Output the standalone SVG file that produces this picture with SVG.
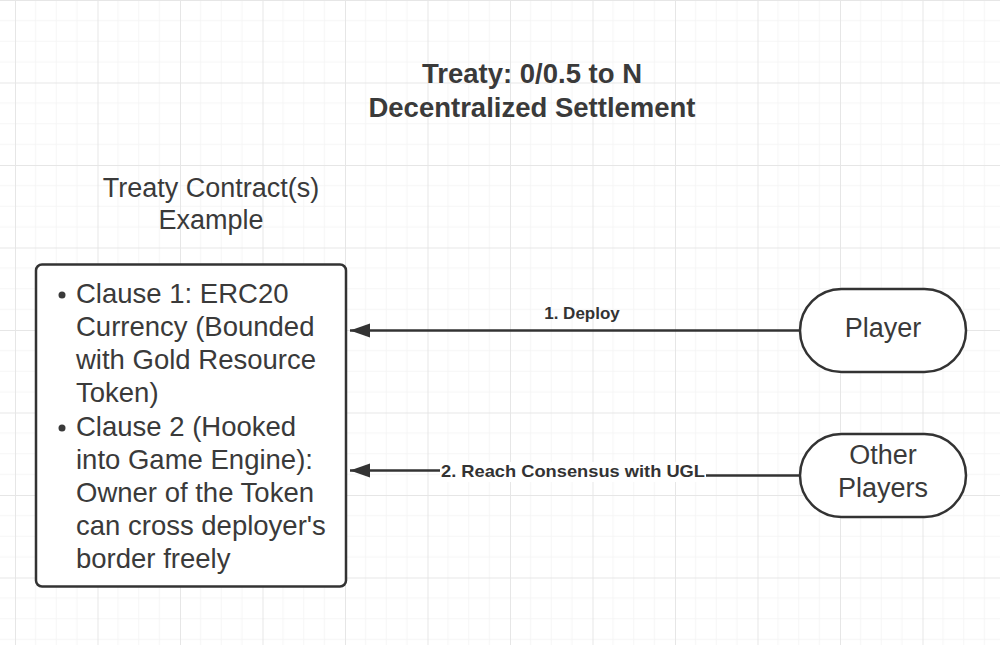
<svg xmlns="http://www.w3.org/2000/svg" width="1000" height="645" viewBox="0 0 1000 645">
<defs>
<pattern id="grid" patternUnits="userSpaceOnUse" x="15" y="0" width="82.5" height="82.5">
<path d="M20.6 0V82.5M41.25 0V82.5M61.9 0V82.5M0 20.6H82.5M0 41.25H82.5M0 61.9H82.5" stroke="#f5f5f5" stroke-width="1" fill="none"/>
<path d="M0.5 0V82.5M0 0.5H82.5" stroke="#e6e6e6" stroke-width="1" fill="none"/>
</pattern>
<marker id="arr" markerUnits="userSpaceOnUse" markerWidth="22" markerHeight="16" refX="20" refY="7" orient="auto">
<path d="M0 0L20 7L0 14Z" fill="#333"/>
</marker>
<style>
text{font-family:"Liberation Sans",Arial,sans-serif;fill:#3a3a3a}
.title{font-size:27.5px;font-weight:bold;text-anchor:middle}
.sub{font-size:27px;text-anchor:middle}
.body{font-size:27.5px}
.node{fill:#fff;stroke:#333;stroke-width:2.5}
.lbl{font-size:17px;font-weight:bold;text-anchor:middle;fill:#333}
.conn{stroke:#333;stroke-width:2.5;fill:none}
</style>
</defs>
<rect width="1000" height="645" fill="#fff"/>
<rect width="1000" height="645" fill="url(#grid)"/>

<g id="title">
<text class="title" x="532" y="83">Treaty: 0/0.5 to N</text>
<text class="title" x="532" y="117">Decentralized Settlement</text>
</g>

<g id="caption">
<text class="sub" x="211" y="197">Treaty Contract(s)</text>
<text class="sub" x="211" y="229">Example</text>
</g>

<g id="connectors">
<path class="conn" d="M800 330.5H350" marker-end="url(#arr)"/>
<path class="conn" d="M800 475.5H580V470.5H350" marker-end="url(#arr)"/>
<text class="lbl" x="582" y="319">1. Deploy</text>
<rect x="440" y="462" width="266" height="20" fill="#fff"/>
<text class="lbl" x="573" y="477" textLength="264" lengthAdjust="spacingAndGlyphs">2. Reach Consensus with UGL</text>
</g>

<g id="contract">
<rect class="node" x="36" y="264.5" width="310" height="322" rx="6"/>
<circle cx="62" cy="295" r="3.5" fill="#3a3a3a"/>
<circle cx="62" cy="428" r="3.5" fill="#3a3a3a"/>
<text class="body" x="76" y="303">Clause 1: ERC20</text>
<text class="body" x="76" y="336">Currency (Bounded</text>
<text class="body" x="76" y="369">with Gold Resource</text>
<text class="body" x="76" y="402">Token)</text>
<text class="body" x="76" y="436">Clause 2 (Hooked</text>
<text class="body" x="76" y="469">into Game Engine):</text>
<text class="body" x="76" y="502">Owner of the Token</text>
<text class="body" x="76" y="535">can cross deployer's</text>
<text class="body" x="76" y="568">border freely</text>
</g>

<g id="player">
<rect class="node" x="800" y="289" width="166" height="83" rx="41.5"/>
<text class="sub" x="883" y="337">Player</text>
</g>

<g id="other-players">
<rect class="node" x="800" y="434" width="166" height="83" rx="41.5"/>
<text class="sub" x="883" y="464">Other</text>
<text class="sub" x="883" y="497">Players</text>
</g>
</svg>
